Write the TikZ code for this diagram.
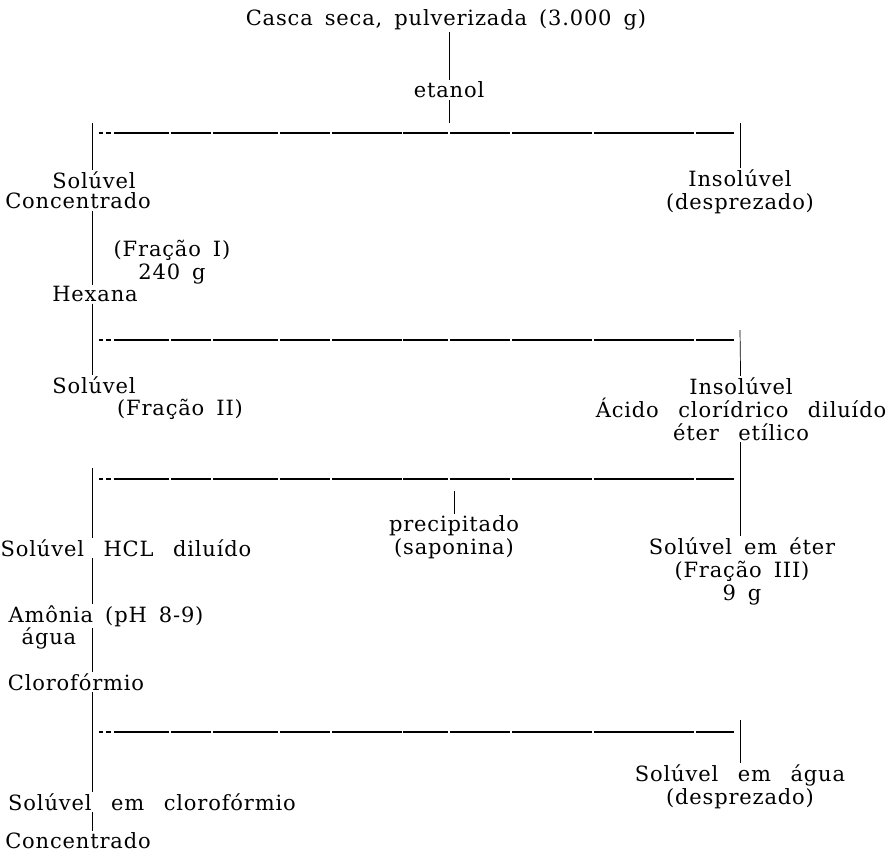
\documentclass[tikz,border=0pt]{standalone}
\usepackage{fontspec}
\setmainfont{DejaVu Serif}[LetterSpace=4,WordSpace=1.6]
\newfontfamily\widefont{DejaVu Serif}[LetterSpace=4,WordSpace=2.6]
\usepackage{tikz}

\begin{document}
\begin{tikzpicture}[x=1pt, y=-1pt,
    txt/.style={inner sep=1.5pt, align=center, font=\fontsize{21}{23}\selectfont},
    widetxt/.style={txt, font=\widefont\fontsize{21}{23}\selectfont},
    vline/.style={line width=0.7pt},
    bar/.style={line width=1.3pt, dash pattern=on 4pt off 3pt on 5pt off 3pt on 55pt off 2pt on 40pt off 1.5pt on 65pt off 2pt on 50pt off 2pt on 70pt off 1.5pt on 45pt off 2pt on 60pt off 2pt on 80pt off 2pt on 100pt off 2pt on 120pt off 2pt}
]
    \useasboundingbox (0,0) rectangle (894,855);

    % extracao com etanol
    \node[txt] (casca) at (446,20) {Casca seca, pulverizada (3.000 g)};
    \node[txt] (etanol) at (449,90) {etanol};
    \node[txt] (sol1) at (94,180) {Solúvel};
    \node[txt] (conc1) at (78,201) {Concentrado};
    \node[txt] (ins1) at (740,192) {Insolúvel\\(desprezado)};

    % hexana
    \node[txt] (fr1) at (172,262) {(Fração I)\\240 g};
    \node[txt] (hex) at (95,294) {Hexana};
    \node[txt] (sol2) at (94,385) {Solúvel};
    \node[txt] (fr2) at (180,409) {(Fração II)};
    \node[widetxt] (ins2) at (741,409) {Insolúvel\\Ácido clorídrico diluído\\éter etílico};

    % acido / eter
    \node[widetxt] (solhcl) at (126,548) {Solúvel HCL diluído};
    \node[txt] (prec) at (454,537) {precipitado\\(saponina)};
    \node[txt] (soleter) at (742,571) {Solúvel em éter\\(Fração III)\\9 g};

    % amonia / clorofórmio
    \node[txt] (amonia) at (106,616) {Amônia (pH 8-9)};
    \node[txt] (agua) at (49,638) {água};
    \node[txt] (cloro) at (76,682) {Clorofórmio};
    \node[widetxt] (solcl) at (152,802) {Solúvel em clorofórmio};
    \node[widetxt] (solagua) at (740,787) {Solúvel em água\\(desprezado)};
    \node[txt] (conc2) at (78,841) {Concentrado};

    \coordinate (b1l) at (92,133); \coordinate (b1m) at (449,133); \coordinate (b1r) at (740,133);
    \coordinate (b2l) at (92,340); \coordinate (b2r) at (740,340);
    \coordinate (b3l) at (92,479); \coordinate (b3m) at (454,479); \coordinate (b3r) at (740,479);
    \coordinate (b4l) at (92,732); \coordinate (b4r) at (740,732);

    \foreach \l/\r in {b1l/b1r, b2l/b2r, b3l/b3r, b4l/b4r}
        \draw[bar] ([xshift=7pt]\l) -- ([xshift=-6pt]\r);

    \draw[vline] (casca.south -| etanol) -- (etanol);
    \draw[vline] (etanol) -- ([yshift=10pt]b1m);
    \draw[vline] ([yshift=10pt]b1l) -- (sol1.north -| b1l);
    \draw[vline] ([yshift=10pt]b1r) -- (ins1);
    \draw[vline] (conc1.south -| b1l) -- (hex.north -| b1l);
    \draw[vline] (hex.south -| b2l) -- (sol2.north -| b2l);
    \draw[vline] ([yshift=10pt]b2r) -- (ins2);
    \draw[vline] (ins2.south -| b3r) -- (soleter.north -| b3r);
    \draw[vline] ([yshift=11pt]b3l) -- (solhcl.north -| b3l);
    \draw[vline] ([yshift=-12pt]b3m) -- (prec);
    \draw[vline] (solhcl.south -| b3l) -- (amonia.north -| b3l);
    \draw[vline] (amonia.south -| b3l) -- (cloro.north -| b3l);
    \draw[vline] (cloro.south -| b4l) -- (solcl.north -| b4l);
    \draw[vline] ([yshift=12pt]b4r) -- (solagua);
    \draw[vline] (solcl.south -| b4l) -- (conc2.north -| b4l);
\end{tikzpicture}
\end{document}
